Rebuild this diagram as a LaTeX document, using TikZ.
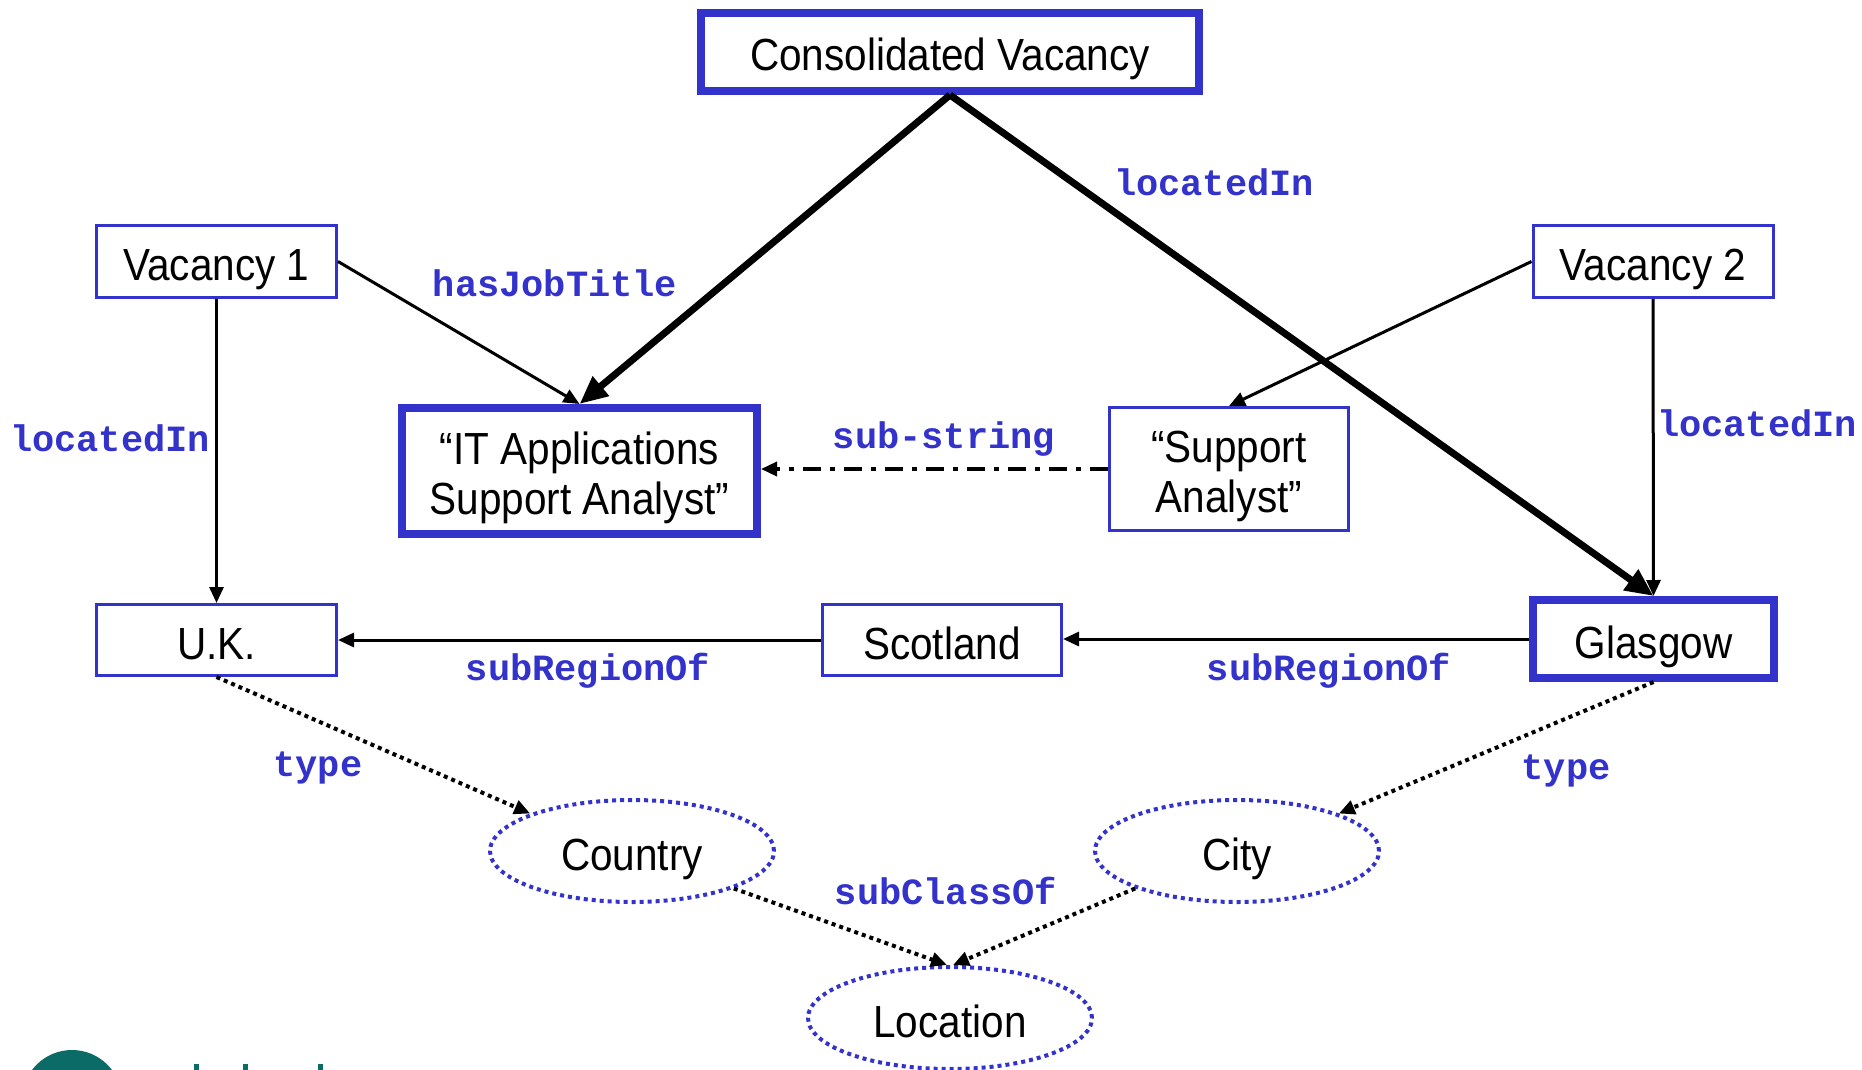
\documentclass[tikz,border=0pt]{standalone}
\usepackage{fontspec}
\setmainfont{Liberation Sans}[FakeStretch=0.9]
\newfontfamily\lblfont{Liberation Mono}
\usetikzlibrary{arrows.meta,shapes.geometric}
\definecolor{bblue}{HTML}{3333CC}
\definecolor{tealx}{HTML}{0B6B66}
\begin{document}
\begin{tikzpicture}[x=1pt,y=-1pt,
 box/.style={draw=bblue,line width=3pt,fill=white,inner sep=0pt,align=center,text height=38pt,text depth=0pt,font=\fontsize{45}{50}\selectfont},
 twoline/.style={text height=86pt,text depth=0pt},
 thickbox/.style={box,line width=8pt},
 cls/.style={ellipse,draw=bblue,line width=4pt,dash pattern=on 4pt off 4pt,inner sep=0pt,text height=38pt,text depth=0pt,minimum width=284pt,minimum height=102pt,font=\fontsize{45}{50}\selectfont},
 lbl/.style={text=bblue,font=\lblfont\bfseries\fontsize{37}{40}\selectfont,inner sep=0pt},
 rel/.style={line width=3pt,-{Triangle[length=16pt,width=14pt]}},
 bigrel/.style={line width=7pt,-{Triangle[length=28pt,width=24pt]}},
 typ/.style={line width=4pt,dash pattern=on 4pt off 4pt,-{Triangle[length=16pt,width=14pt]}},
 substr/.style={line width=3.5pt,dash pattern=on 18pt off 9pt on 5pt off 9pt,-{Triangle[length=16pt,width=14pt]}},
]
\useasboundingbox (0,0) rectangle (1862,1070);
\clip (0,0) rectangle (1862,1070);
\fill[white] (0,0) rectangle (1862,1070);

% logo fragments
\fill[tealx] (72,1100) circle (50pt);
\fill[tealx] (194,1064) rectangle (199,1070);
\fill[tealx] (243,1064) rectangle (248,1070);
\fill[tealx] (318,1064) rectangle (323,1070);

% nodes
\node[thickbox,minimum width=498pt,minimum height=78pt] (cons) at (950,52) {Consolidated Vacancy};
\node[box,minimum width=240pt,minimum height=72pt] (v1) at (216.5,261.5) {Vacancy 1};
\node[box,minimum width=240pt,minimum height=72pt] (v2) at (1653,261.5) {Vacancy 2};
\node[thickbox,twoline,minimum width=355pt,minimum height=126pt] (it) at (579.5,471) {“IT Applications\\Support Analyst”};
\node[box,twoline,minimum width=239pt,minimum height=123pt] (sa) at (1229,469) {“Support\\Analyst”};
\node[box,minimum width=240pt,minimum height=71pt] (uk) at (216.5,640) {U.K.};
\node[box,minimum width=239pt,minimum height=71pt] (sc) at (942,640) {Scotland};
\node[thickbox,minimum width=241pt,minimum height=78pt] (gl) at (1653.5,639) {Glasgow};
\node[cls] (country) at (632,851) {Country};
\node[cls] (city) at (1237,851) {City};
\node[cls] (loc) at (950,1018) {Location};

% labels
\node[lbl] (l1) at (1214,182) {locatedIn};
\node[lbl] (l2) at (555,283) {hasJobTitle};
\node[lbl] (l3) at (110,438) {locatedIn};
\node[lbl] (l4) at (1757,423) {locatedIn};
\node[lbl] (l5) at (944,439) {sub-string};
\node[lbl] (l6) at (588,671) {subRegionOf};
\node[lbl] (l7) at (1329,671) {subRegionOf};
\node[lbl] (l8) at (318,768) {type};
\node[lbl] (l9) at (1566,771) {type};
\node[lbl] (l10) at (946,891) {subClassOf};

% edges
\draw[rel] (v1.east) -- (it.north);
\draw[bigrel] (cons.south) -- (it.north);
\draw[bigrel] (cons.south) -- (gl.north);
\draw[rel] (v2.west) -- (sa.north);
\draw[rel] (v2.south) -- (gl.north);
\draw[rel] (v1.south) -- (uk.north);
\draw[substr] (sa.west) -- (sa.west -| it.east);
\draw[rel] (gl.west) -- (gl.west -| sc.east);
\draw[rel] (sc.west) -- (uk.east);
\draw[typ] (uk.south) -- (country.north west);
\draw[typ] (gl.south) -- (city.north east);
\draw[typ] (country.south east) -- ([xshift=-3pt]loc.north);
\draw[typ] (city.south west) -- ([xshift=3pt]loc.north);
\end{tikzpicture}
\end{document}
